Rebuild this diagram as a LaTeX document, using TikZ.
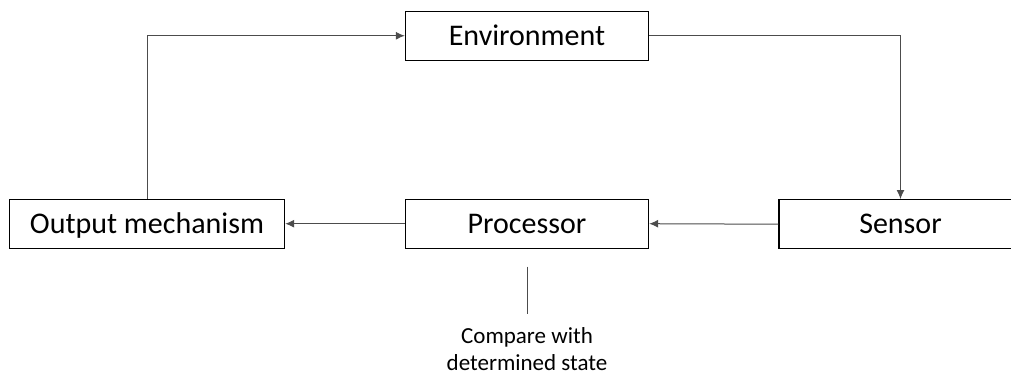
\documentclass[tikz,border=0pt]{standalone}
\usepackage{fontspec}
\setmainfont{Carlito}
\usetikzlibrary{arrows.meta}
\begin{document}
\begin{tikzpicture}[x=1pt,y=-1pt,
  box/.style={draw=black,line width=1.4pt,rectangle,inner sep=0pt,
    minimum height=49pt,text height=19.5pt,text depth=0pt,font=\fontsize{30}{36}\selectfont},
  conn/.style={draw=black!70,line width=1pt},
  arr/.style={conn,-{Latex[length=9pt,width=8pt]}}]
\useasboundingbox (0,0) rectangle (1011,376);
\clip (0,0) rectangle (1011,376);
\node[box,minimum width=243pt] (env) at (527,35.75) {Environment};
\node[box,minimum width=275pt] (out) at (147,223.7) {Output mechanism};
\node[box,minimum width=243pt] (proc) at (527,223.7) {Processor};
\node[box,minimum width=243pt] (sens) at (900.5,224.2) {Sensor};
\node[align=center,inner sep=0pt,font=\fontsize{23}{27.7}\selectfont] (cmp) at (527,349) {Compare with\\determined state};
\coordinate (ltop) at (527.5,266.5);
\coordinate (lbot) at (527.5,313.5);
\draw[arr] (out.north) |- (env.west);
\draw[arr] (env.east) -| (sens.north);
\draw[arr] (sens.west) -- (proc.east);
\draw[arr] (proc.west) -- (out.east);
\draw[conn] (ltop) -- (lbot);
\end{tikzpicture}
\end{document}
